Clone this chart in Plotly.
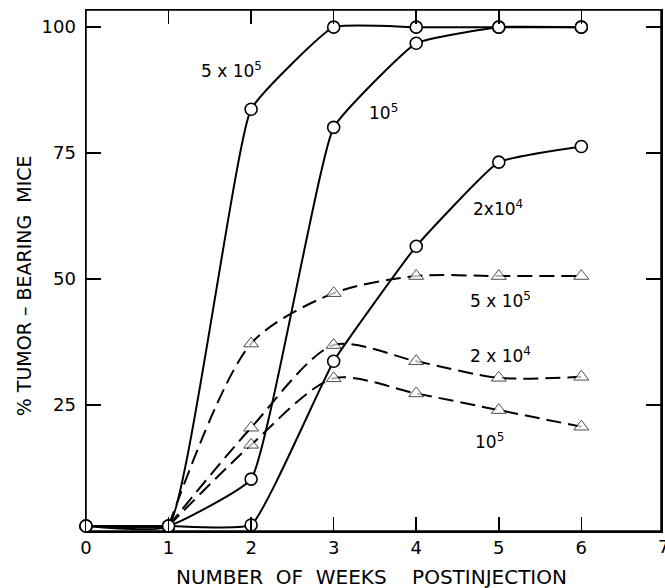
import plotly.graph_objects as go

# ---- data ----
weeks = [0, 1, 2, 3, 4, 5, 6]
circ_5e5 = [1, 1, 83.7, 100, 100, 100, 100]
circ_1e5 = [1, 1, 10.3, 80.1, 96.8, 100, 100]
circ_2e4 = [1, 1, 1.2, 33.7, 56.5, 73.2, 76.3]

weeks_tri = [1, 2, 3, 4, 5, 6]
tri_5e5 = [1, 37.2, 47.2, 50.6, 50.6, 50.6]
tri_2e4 = [1, 20.5, 36.9, 33.7, 30.4, 30.6]
tri_1e5 = [1, 17.1, 30.3, 27.3, 24.0, 20.7]

x_ticks = [0, 1, 2, 3, 4, 5, 6]
y_ticks = [25, 50, 75, 100]

FONT = "DejaVu Sans"
fig = go.Figure()

tri_sizes = [0] + [13] * (len(weeks_tri) - 1)
for ys in (tri_5e5, tri_2e4, tri_1e5):
    fig.add_trace(go.Scatter(
        x=weeks_tri, y=ys, mode="lines+markers",
        line=dict(color="black", width=2, dash="15px,7px", shape="spline", smoothing=0.8),
        marker=dict(symbol="triangle-up", size=tri_sizes, color="white",
                    line=dict(color="black", width=1.0)),
        cliponaxis=False, showlegend=False, hoverinfo="skip"))

for ys in (circ_2e4, circ_1e5, circ_5e5):
    fig.add_trace(go.Scatter(
        x=weeks, y=ys, mode="lines+markers",
        line=dict(color="black", width=2, shape="spline", smoothing=0.35),
        marker=dict(symbol="circle", size=12, color="white",
                    line=dict(color="black", width=1.6)),
        cliponaxis=False, showlegend=False, hoverinfo="skip"))

# curve labels
labels = [
    ("5 x 10<sup>5</sup>", 1.76, 91.5),
    ("10<sup>5</sup>", 3.6, 83.1),
    ("2x10<sup>4</sup>", 4.99, 64.1),
    ("5 x 10<sup>5</sup>", 5.02, 45.8),
    ("2 x 10<sup>4</sup>", 5.02, 34.9),
    ("10<sup>5</sup>", 4.89, 17.9),
]
for txt, lx, ly in labels:
    fig.add_annotation(x=lx, y=ly, xref="x", yref="y", text=txt, showarrow=False,
                       font=dict(family=FONT, size=17, color="black"))

# axis titles
fig.add_annotation(xref="paper", yref="paper", x=0.4965, y=-0.0883,
                   text="NUMBER\u00a0 OF\u00a0 WEEKS\u00a0\u00a0\u00a0\u00a0POSTINJECTION",
                   showarrow=False, xanchor="center", yanchor="middle",
                   font=dict(family=FONT, size=20, color="black"))
fig.add_annotation(xref="paper", yref="paper", x=-0.1075, y=0.47,
                   text="% TUMOR \u2013 BEARING\u00a0 MICE", textangle=-90,
                   showarrow=False, xanchor="center", yanchor="middle",
                   font=dict(family=FONT, size=19, color="black"))
# partially visible "7" tick label at the right edge
fig.add_annotation(xref="paper", yref="paper", x=1.005, y=-0.0288,
                   text="7", showarrow=False, xanchor="center", yanchor="middle",
                   font=dict(family=FONT, size=18, color="black"))

# plot frame
fig.add_shape(type="rect", xref="paper", yref="paper", x0=0, y0=0, x1=1, y1=1,
              line=dict(color="black", width=1.5), fillcolor="rgba(0,0,0,0)", layer="below")

fig.update_xaxes(range=[0, 6.965], tickvals=x_ticks, ticktext=[str(v) for v in x_ticks],
                 ticks="inside", ticklen=14, tickwidth=1.5, tickcolor="black",
                 showline=True, linecolor="black", linewidth=1.5, mirror="ticks",
                 showgrid=False, zeroline=False,
                 tickfont=dict(family=FONT, size=18, color="black"))
fig.update_yaxes(range=[0, 103.4], tickvals=y_ticks, ticktext=[str(v) for v in y_ticks],
                 ticks="inside", ticklen=15, tickwidth=1.5, tickcolor="black",
                 showline=True, linecolor="black", linewidth=1.5, mirror="ticks",
                 showgrid=False, zeroline=False, ticklabelstandoff=5,
                 tickfont=dict(family=FONT, size=18, color="black"))

fig.update_layout(width=665, height=588, margin=dict(l=86, r=2, t=10, b=57),
                  paper_bgcolor="white", plot_bgcolor="white")
fig.write_html("out.html", config={"displayModeBar": False, "staticPlot": True},
               post_script="document.body.style.margin='0';document.body.style.overflow='hidden';")
